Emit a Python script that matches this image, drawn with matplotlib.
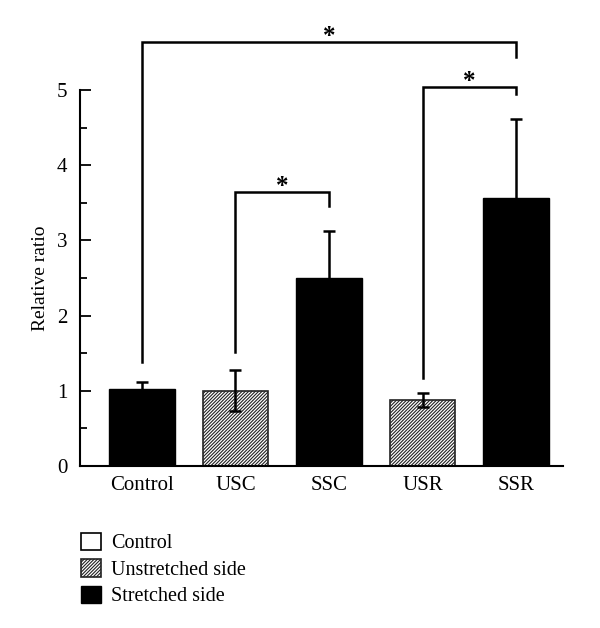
import matplotlib
matplotlib.use("Agg")
import matplotlib.pyplot as plt
from matplotlib.patches import Patch
import numpy as np

plt.rcParams['font.family'] = ['Liberation Serif', 'DejaVu Serif']
plt.rcParams['hatch.linewidth'] = 0.8

# --- data ---
groups = ["Control", "USC", "SSC", "USR", "SSR"]
means = [1.02, 1.00, 2.50, 0.88, 3.56]
errors = [0.10, 0.27, 0.63, 0.09, 1.05]
kinds = ["stretched", "unstretched", "stretched", "unstretched", "stretched"]

# significance brackets: (left idx, right idx, bar height, left leg bottom, right leg bottom)
brackets = [
    (0, 4, 5.64, 1.38, 5.44),
    (1, 2, 3.64, 1.52, 3.46),
    (3, 4, 5.04, 1.17, 4.95),
]

legend_labels = ["Control", "Unstretched side", "Stretched side"]

fig = plt.figure(figsize=(6, 6.28), dpi=100)
ax = fig.add_axes([80 / 600, 162 / 628, 483 / 600, 376 / 628])

x = np.arange(len(groups))
for xi, m, e, k in zip(x, means, errors, kinds):
    if k == "unstretched":
        ax.bar(xi, m, width=0.7, color="white", edgecolor="#222222",
               hatch="//////////", linewidth=1.2, zorder=2)
    else:
        ax.bar(xi, m, width=0.7, color="black", edgecolor="black", zorder=2)
    ax.errorbar(xi, m, yerr=e, fmt="none", ecolor="black", elinewidth=1.8,
                capsize=4, capthick=1.8, zorder=3)

for i, j, h, lb, rb in brackets:
    ax.plot([x[i], x[i], x[j], x[j]], [lb, h, h, rb], color="black",
            lw=1.8, clip_on=False, solid_joinstyle="miter")
    ax.text((x[i] + x[j]) / 2, h - 0.01, "*", ha="center", va="baseline",
            fontsize=18, fontweight="bold", clip_on=False)

ax.set_xlim(-0.66, 4.5)
ax.set_ylim(0, 5)
ax.set_xticks(x)
ax.set_xticklabels(groups, fontsize=15)
ax.tick_params(axis="x", length=0, pad=7)
ax.set_yticks(range(6))
ax.set_yticks(np.arange(0.5, 5, 1), minor=True)
ax.tick_params(axis="y", which="major", direction="in", length=8, width=1.3, labelsize=15, pad=9)
ax.tick_params(axis="y", which="minor", direction="in", length=5, width=1.3)
ax.spines["top"].set_visible(False)
ax.spines["right"].set_visible(False)
ax.spines["left"].set_linewidth(1.5)
ax.spines["bottom"].set_linewidth(1.5)
ax.set_ylabel("Relative ratio", fontsize=14, labelpad=6)

handles = [
    Patch(facecolor="white", edgecolor="black", linewidth=1.2),
    Patch(facecolor="white", edgecolor="#222222", hatch="//////////", linewidth=1.2),
    Patch(facecolor="black", edgecolor="black"),
]
fig.legend(handles, legend_labels, loc="upper left", bbox_to_anchor=(0.135, 0.152),
           frameon=False, fontsize=14.5, handlelength=1.0, handleheight=0.95,
           handletextpad=0.5, labelspacing=0.3, borderaxespad=0, borderpad=0)

fig.savefig("out.png", dpi=100)
